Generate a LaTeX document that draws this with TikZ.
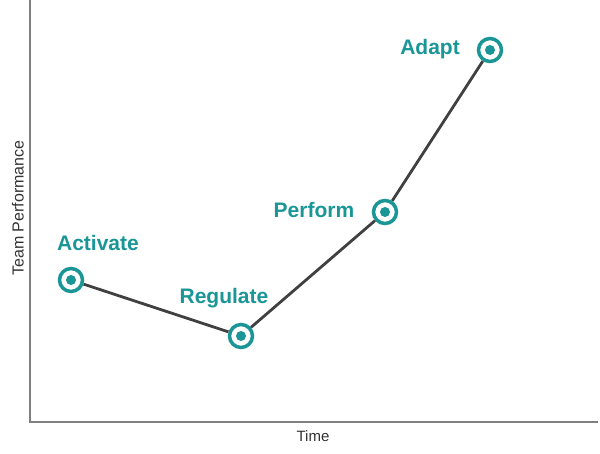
\documentclass[tikz,border=0pt]{standalone}
\usepackage{fontspec}
\setmainfont{Liberation Sans}
\definecolor{teal1}{HTML}{1A9696}
\definecolor{lineg}{HTML}{404040}
\definecolor{axisg}{HTML}{808080}
\begin{document}
\begin{tikzpicture}[x=1pt,y=-1pt,
  ring/.style={circle,draw=teal1,line width=3.5pt,fill=white,minimum size=23pt,inner sep=0pt,
    path picture={\fill[teal1] (path picture bounding box.center) circle[radius=5pt];}},
  lbl/.style={text=teal1,font=\fontsize{21}{24}\selectfont\bfseries,inner sep=0pt},
  axlbl/.style={text=black!80,inner sep=0pt}]
\useasboundingbox (0,0) rectangle (600,454);
\coordinate (o) at (30,422);
\coordinate (ytop) at (30,0);
\coordinate (xend) at (598,422);
\draw[axisg,line width=1.2pt] (ytop) -- (o) -- (xend);
\node[axlbl,font=\fontsize{16}{18}\selectfont,rotate=90] (yl) at (18,208) {Team Performance};
\node[axlbl,font=\fontsize{15}{18}\selectfont] (xl) at (313,436) {Time};
\node[ring] (a) at (71,280) {};
\node[ring] (r) at (241,336) {};
\node[ring] (p) at (385,212) {};
\node[ring] (d) at (490,50) {};
\draw[lineg,line width=2.8pt] (a) -- (r) -- (p) -- (d);
\node[lbl] (la) at (98,243) {Activate};
\node[lbl] (lr) at (224,298) {Regulate};
\node[lbl] (lp) at (314,210) {Perform};
\node[lbl] (ld) at (430,49) {Adapt};
\end{tikzpicture}
\end{document}
